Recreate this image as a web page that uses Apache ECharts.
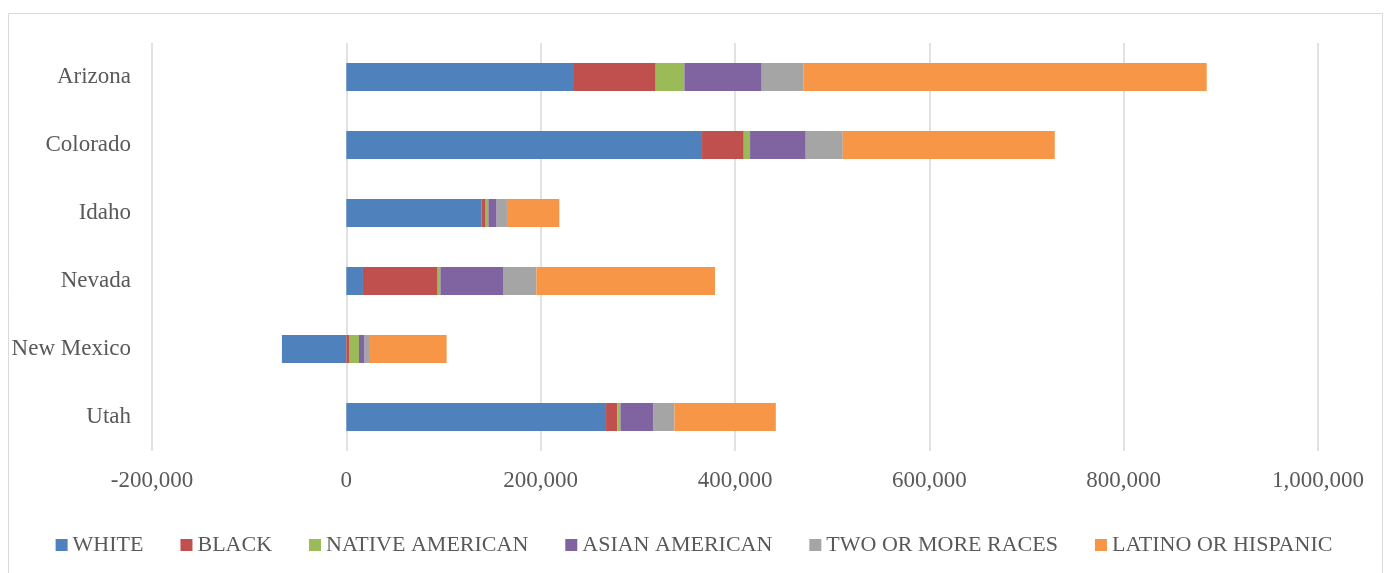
<!DOCTYPE html>
<html>
<head>
<meta charset="utf-8">
<script src="https://cdn.jsdelivr.net/npm/echarts@6/dist/echarts.min.js"></script>
<style>
html,body{margin:0;padding:0;background:#fff;}
#c{width:1388px;height:573px;}
</style>
</head>
<body>
<div id="c"></div>
<script>
const categories = ["Arizona", "Colorado", "Idaho", "Nevada", "New Mexico", "Utah"];
const seriesNames = ["WHITE", "BLACK", "NATIVE AMERICAN", "ASIAN AMERICAN", "TWO OR MORE RACES", "LATINO OR HISPANIC"];
const white    = [234300, 366100, 139300, 17100, -66300, 267300];
const black    = [84100, 42900, 4100, 76900, 3400, 11700];
const native   = [29500, 6500, 2800, 2800, 9600, 3100];
const asian    = [79600, 57300, 8500, 65100, 5800, 33600];
const twoMore  = [43200, 38100, 10600, 33700, 4500, 22000];
const latino   = [414800, 218200, 53900, 183800, 79900, 104300];
const colors = ["#4F81BD", "#C0504D", "#9BBB59", "#8064A2", "#A5A5A5", "#F79646"];
const values = [white, black, native, asian, twoMore, latino];

const font = "'Liberation Serif', 'DejaVu Serif', serif";
const chart = echarts.init(document.getElementById('c'));
chart.setOption({
  animation: false,
  color: colors,
  graphic: [{
    type: 'rect', left: 6, top: 11,
    shape: { width: 1374, height: 570 },
    style: { fill: 'none', stroke: '#d9d9d9', lineWidth: 1 },
    silent: true
  }],
  grid: { left: 152, right: 70, top: 43, bottom: 122 },
  xAxis: {
    type: 'value', min: -200000, max: 1000000, interval: 200000,
    axisLine: { show: false }, axisTick: { show: false },
    splitLine: { show: true, lineStyle: { color: '#d9d9d9', width: 1.5 } },
    axisLabel: {
      color: '#595959', fontFamily: font, fontSize: 23, margin: 18,
      formatter: v => v.toLocaleString('en-US')
    }
  },
  yAxis: {
    type: 'category', data: categories, inverse: true,
    axisLine: { show: false, onZero: false }, axisTick: { show: false },
    axisLabel: { color: '#595959', fontFamily: font, fontSize: 23, margin: 21 }
  },
  legend: {
    data: seriesNames, left: 'center', top: 529,
    itemWidth: 12, itemHeight: 12, itemGap: 37, icon: 'rect',
    textStyle: { color: '#595959', fontFamily: font, fontSize: 22 }
  },
  series: seriesNames.map((n, i) => ({
    name: n, type: 'bar', stack: 'total', barWidth: 28,
    data: values[i],
    itemStyle: { color: colors[i] }
  }))
});
</script>
</body>
</html>
